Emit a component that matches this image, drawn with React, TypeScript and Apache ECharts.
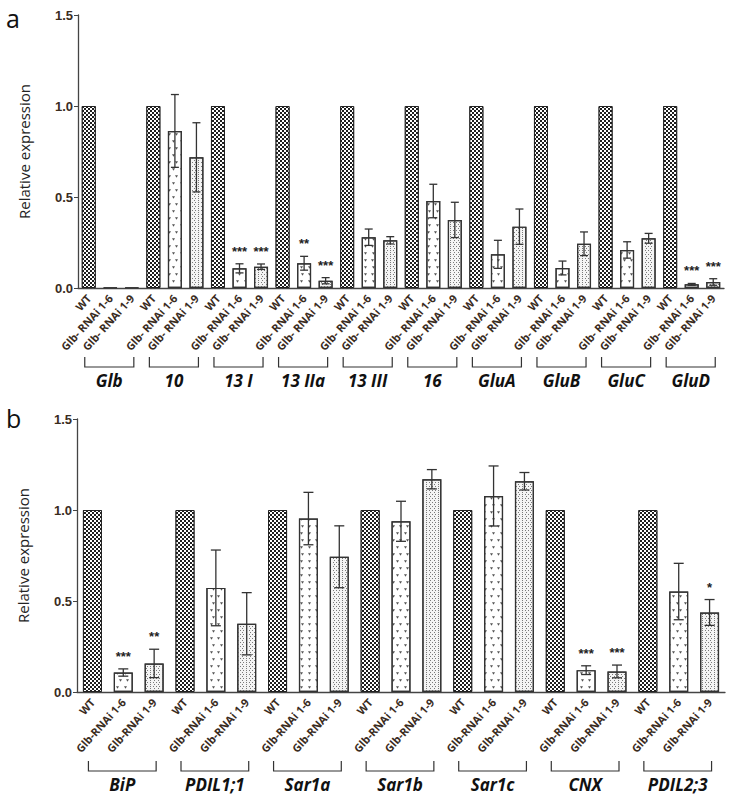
import React, { useEffect, useRef } from "react";
import * as echarts from "echarts";

// ---------- Panel a data ----------
const groupsA = ["Glb", "10", "13 I", "13 IIa", "13 III", "16", "GluA", "GluB", "GluC", "GluD"];
const samplesA = ["WT", "Glb- RNAi 1-6", "Glb- RNAi 1-9"];
const wtA = [1, 1, 1, 1, 1, 1, 1, 1, 1, 1];
const rnai16A = [0.003, 0.863, 0.108, 0.136, 0.279, 0.478, 0.185, 0.11, 0.209, 0.02];
const err16A = [0, 0.2, 0.025, 0.038, 0.045, 0.092, 0.077, 0.038, 0.045, 0.005];
const rnai19A = [0.003, 0.718, 0.117, 0.04, 0.262, 0.374, 0.337, 0.243, 0.273, 0.033];
const err19A = [0, 0.19, 0.015, 0.017, 0.02, 0.097, 0.097, 0.065, 0.027, 0.018];
const sig16A = ["", "", "***", "**", "", "", "", "", "", "***"];
const sig19A = ["", "", "***", "***", "", "", "", "", "", "***"];

// ---------- Panel b data ----------
const groupsB = ["BiP", "PDIL1;1", "Sar1a", "Sar1b", "Sar1c", "CNX", "PDIL2;3"];
const samplesB = ["WT", "Glb-RNAi 1-6", "Glb-RNAi 1-9"];
const wtB = [1, 1, 1, 1, 1, 1, 1];
const rnai16B = [0.107, 0.572, 0.953, 0.938, 1.077, 0.12, 0.552];
const err16B = [0.02, 0.208, 0.144, 0.11, 0.165, 0.024, 0.155];
const rnai19B = [0.157, 0.375, 0.743, 1.169, 1.158, 0.113, 0.437];
const err19B = [0.078, 0.171, 0.17, 0.053, 0.048, 0.035, 0.071];
const sig16B = ["***", "", "", "", "", "***", ""];
const sig19B = ["**", "", "", "", "", "***", "*"];

const yTicks = [0, 0.5, 1.0, 1.5];

const AXIS_COLOR = "#444";
const LABEL_COLOR = "#3a2c1e";
const FONT = "'Open Sans', 'Liberation Sans', sans-serif";

const wtDecal = {
  color: "#ffffff",
  symbol: "rect",
  symbolSize: 1,
  dashArrayX: [[2, 2], [0, 2, 2, 0]],
  dashArrayY: [2, 0],
  rotation: 0,
};
const r16Decal = {
  color: "#555555",
  symbol: "path://M0,0L10,0L5,8Z",
  symbolSize: 1,
  dashArrayX: [[3, 4], [0, 3.5, 3, 0.5]],
  dashArrayY: [2.5, 3.5],
  rotation: 0,
};
const r19Decal = {
  color: "#7a7a7a",
  symbol: "rect",
  symbolSize: 1,
  dashArrayX: [[1, 1.5], [0, 1.25, 1, 0.25]],
  dashArrayY: [1, 1],
  rotation: 0,
};

function buildPanel(
  groups: string[],
  samples: string[],
  wt: number[],
  r16: number[],
  e16: number[],
  r19: number[],
  e19: number[],
  s16: string[],
  s19: string[],
  idx: number,
  barWidth: number,
  capHalf: number
) {
  const cats: string[] = [];
  groups.forEach((g) => samples.forEach((s) => cats.push(g + "|" + s)));
  const wtData: any[] = [];
  const d16: any[] = [];
  const d19: any[] = [];
  const errData: number[][] = [];
  const sigs: string[] = [];
  groups.forEach((g, gi) => {
    wtData.push(wt[gi], "-", "-");
    d16.push("-", r16[gi], "-");
    d19.push("-", "-", r19[gi]);
    errData.push([gi * 3 + 1, r16[gi], e16[gi]]);
    sigs.push(s16[gi]);
    errData.push([gi * 3 + 2, r19[gi], e19[gi]]);
    sigs.push(s19[gi]);
  });
  const common = {
    type: "bar",
    xAxisIndex: idx,
    yAxisIndex: idx,
    barWidth,
    barGap: "-100%",
    silent: true,
  };
  const series = [
    {
      ...common,
      name: samples[0] + idx,
      data: wtData,
      itemStyle: { color: "#1e1e1e", borderColor: "#222", borderWidth: 1, decal: wtDecal },
    },
    {
      ...common,
      name: samples[1] + idx,
      data: d16,
      itemStyle: { color: "#ffffff", borderColor: "#333", borderWidth: 1.2, decal: r16Decal },
    },
    {
      ...common,
      name: samples[2] + idx,
      data: d19,
      itemStyle: { color: "#f4f4f4", borderColor: "#333", borderWidth: 1.2, decal: r19Decal },
    },
    {
      type: "custom",
      xAxisIndex: idx,
      yAxisIndex: idx,
      z: 10,
      silent: true,
      data: errData,
      encode: { x: 0, y: 1 },
      renderItem: (params: any, api: any) => {
        const x = api.value(0);
        const m = api.value(1);
        const e = api.value(2);
        const top = api.coord([x, m + e]);
        const bot = api.coord([x, m - e]);
        const children: any[] = [];
        const ls = { stroke: "#333", lineWidth: 1.3 };
        if (e > 0) {
          children.push(
            { type: "line", shape: { x1: top[0], y1: top[1], x2: bot[0], y2: bot[1] }, style: ls },
            { type: "line", shape: { x1: top[0] - capHalf, y1: top[1], x2: top[0] + capHalf, y2: top[1] }, style: ls },
            { type: "line", shape: { x1: bot[0] - capHalf, y1: bot[1], x2: bot[0] + capHalf, y2: bot[1] }, style: ls }
          );
        }
        const s = sigs[params.dataIndex];
        if (s) {
          children.push({
            type: "text",
            x: top[0],
            y: top[1] - 6,
            style: {
              text: s,
              fill: "#222",
              font: "bold 13px 'Liberation Sans', sans-serif",
              textAlign: "center",
              textVerticalAlign: "bottom",
            },
          });
        }
        return { type: "group", children };
      },
    },
  ];
  const xAxis = {
    type: "category",
    gridIndex: idx,
    data: cats,
    axisLine: { lineStyle: { color: AXIS_COLOR, width: 1.3 } },
    axisTick: { alignWithLabel: true, length: 4, lineStyle: { color: AXIS_COLOR } },
    axisLabel: {
      interval: 0,
      rotate: 48,
      margin: 8,
      fontSize: 11,
      fontWeight: "bold",
      fontFamily: FONT,
      color: LABEL_COLOR,
      formatter: (v: string) => v.split("|")[1],
    },
    splitLine: { show: false },
  };
  const yAxis = {
    type: "value",
    gridIndex: idx,
    min: yTicks[0],
    max: yTicks[yTicks.length - 1],
    interval: yTicks[1] - yTicks[0],
    name: "Relative expression",
    nameLocation: "middle",
    nameGap: 47,
    nameTextStyle: { fontSize: 15, fontFamily: FONT, color: "#222" },
    axisLine: { show: true, lineStyle: { color: AXIS_COLOR, width: 1.3 } },
    axisTick: { show: true, length: 4, lineStyle: { color: AXIS_COLOR } },
    axisLabel: {
      fontSize: 13,
      fontWeight: "bold",
      fontFamily: "'Liberation Sans', sans-serif",
      color: LABEL_COLOR,
      margin: 5,
      formatter: (v: number) => v.toFixed(1),
    },
    splitLine: { show: false },
  };
  return { series, xAxis, yAxis, cats };
}

export default function App() {
  const ref = useRef<HTMLDivElement>(null);
  useEffect(() => {
    document.body.style.margin = "0";
    if (!ref.current) return;
    const chart = echarts.init(ref.current, null, { renderer: "svg" });
    const pa = buildPanel(groupsA, samplesA, wtA, rnai16A, err16A, rnai19A, err19A, sig16A, sig19A, 0, 14, 4);
    const pb = buildPanel(groupsB, samplesB, wtB, rnai16B, err16B, rnai19B, err19B, sig16B, sig19B, 1, 19, 5);
    chart.setOption({
      animation: false,
      backgroundColor: "#ffffff",
      grid: [
        { left: 78, right: 6, top: 15, height: 273 },
        { left: 77, right: 5, top: 419, height: 273 },
      ],
      xAxis: [pa.xAxis, pb.xAxis],
      yAxis: [pa.yAxis, pb.yAxis],
      series: [...pa.series, ...pb.series],
    } as any);

    const graphics: any[] = [];
    const addBrackets = (groups: string[], samples: string[], idx: number) => {
      const y0 = chart.convertToPixel({ yAxisIndex: idx } as any, 0) as number;
      groups.forEach((g) => {
        const xl = (chart.convertToPixel({ xAxisIndex: idx } as any, g + "|" + samples[0]) as number) - 4;
        const xr = (chart.convertToPixel({ xAxisIndex: idx } as any, g + "|" + samples[2]) as number) + 2;
        graphics.push({
          type: "polyline",
          shape: { points: [[xl, y0 + 69], [xl, y0 + 79], [xr, y0 + 79], [xr, y0 + 69]] },
          style: { stroke: "#333", lineWidth: 1.2, fill: null },
          silent: true,
        });
        graphics.push({
          type: "text",
          x: (xl + xr) / 2,
          y: y0 + 92,
          style: {
            text: g,
            font: "italic bold 17px 'Open Sans', sans-serif",
            fill: "#111",
            textAlign: "center",
            textVerticalAlign: "middle",
          },
          silent: true,
        });
      });
    };
    addBrackets(groupsA, samplesA, 0);
    addBrackets(groupsB, samplesB, 1);
    graphics.push({
      type: "text",
      x: 6,
      y: 5,
      style: { text: "a", font: "25px 'Open Sans', sans-serif", fill: "#111", textVerticalAlign: "top" },
    });
    graphics.push({
      type: "text",
      x: 6,
      y: 405,
      style: { text: "b", font: "25px 'Open Sans', sans-serif", fill: "#111", textVerticalAlign: "top" },
    });
    chart.setOption({ graphic: graphics } as any);

    return () => chart.dispose();
  }, []);
  return <div ref={ref} style={{ width: 730, height: 795 }} />;
}
